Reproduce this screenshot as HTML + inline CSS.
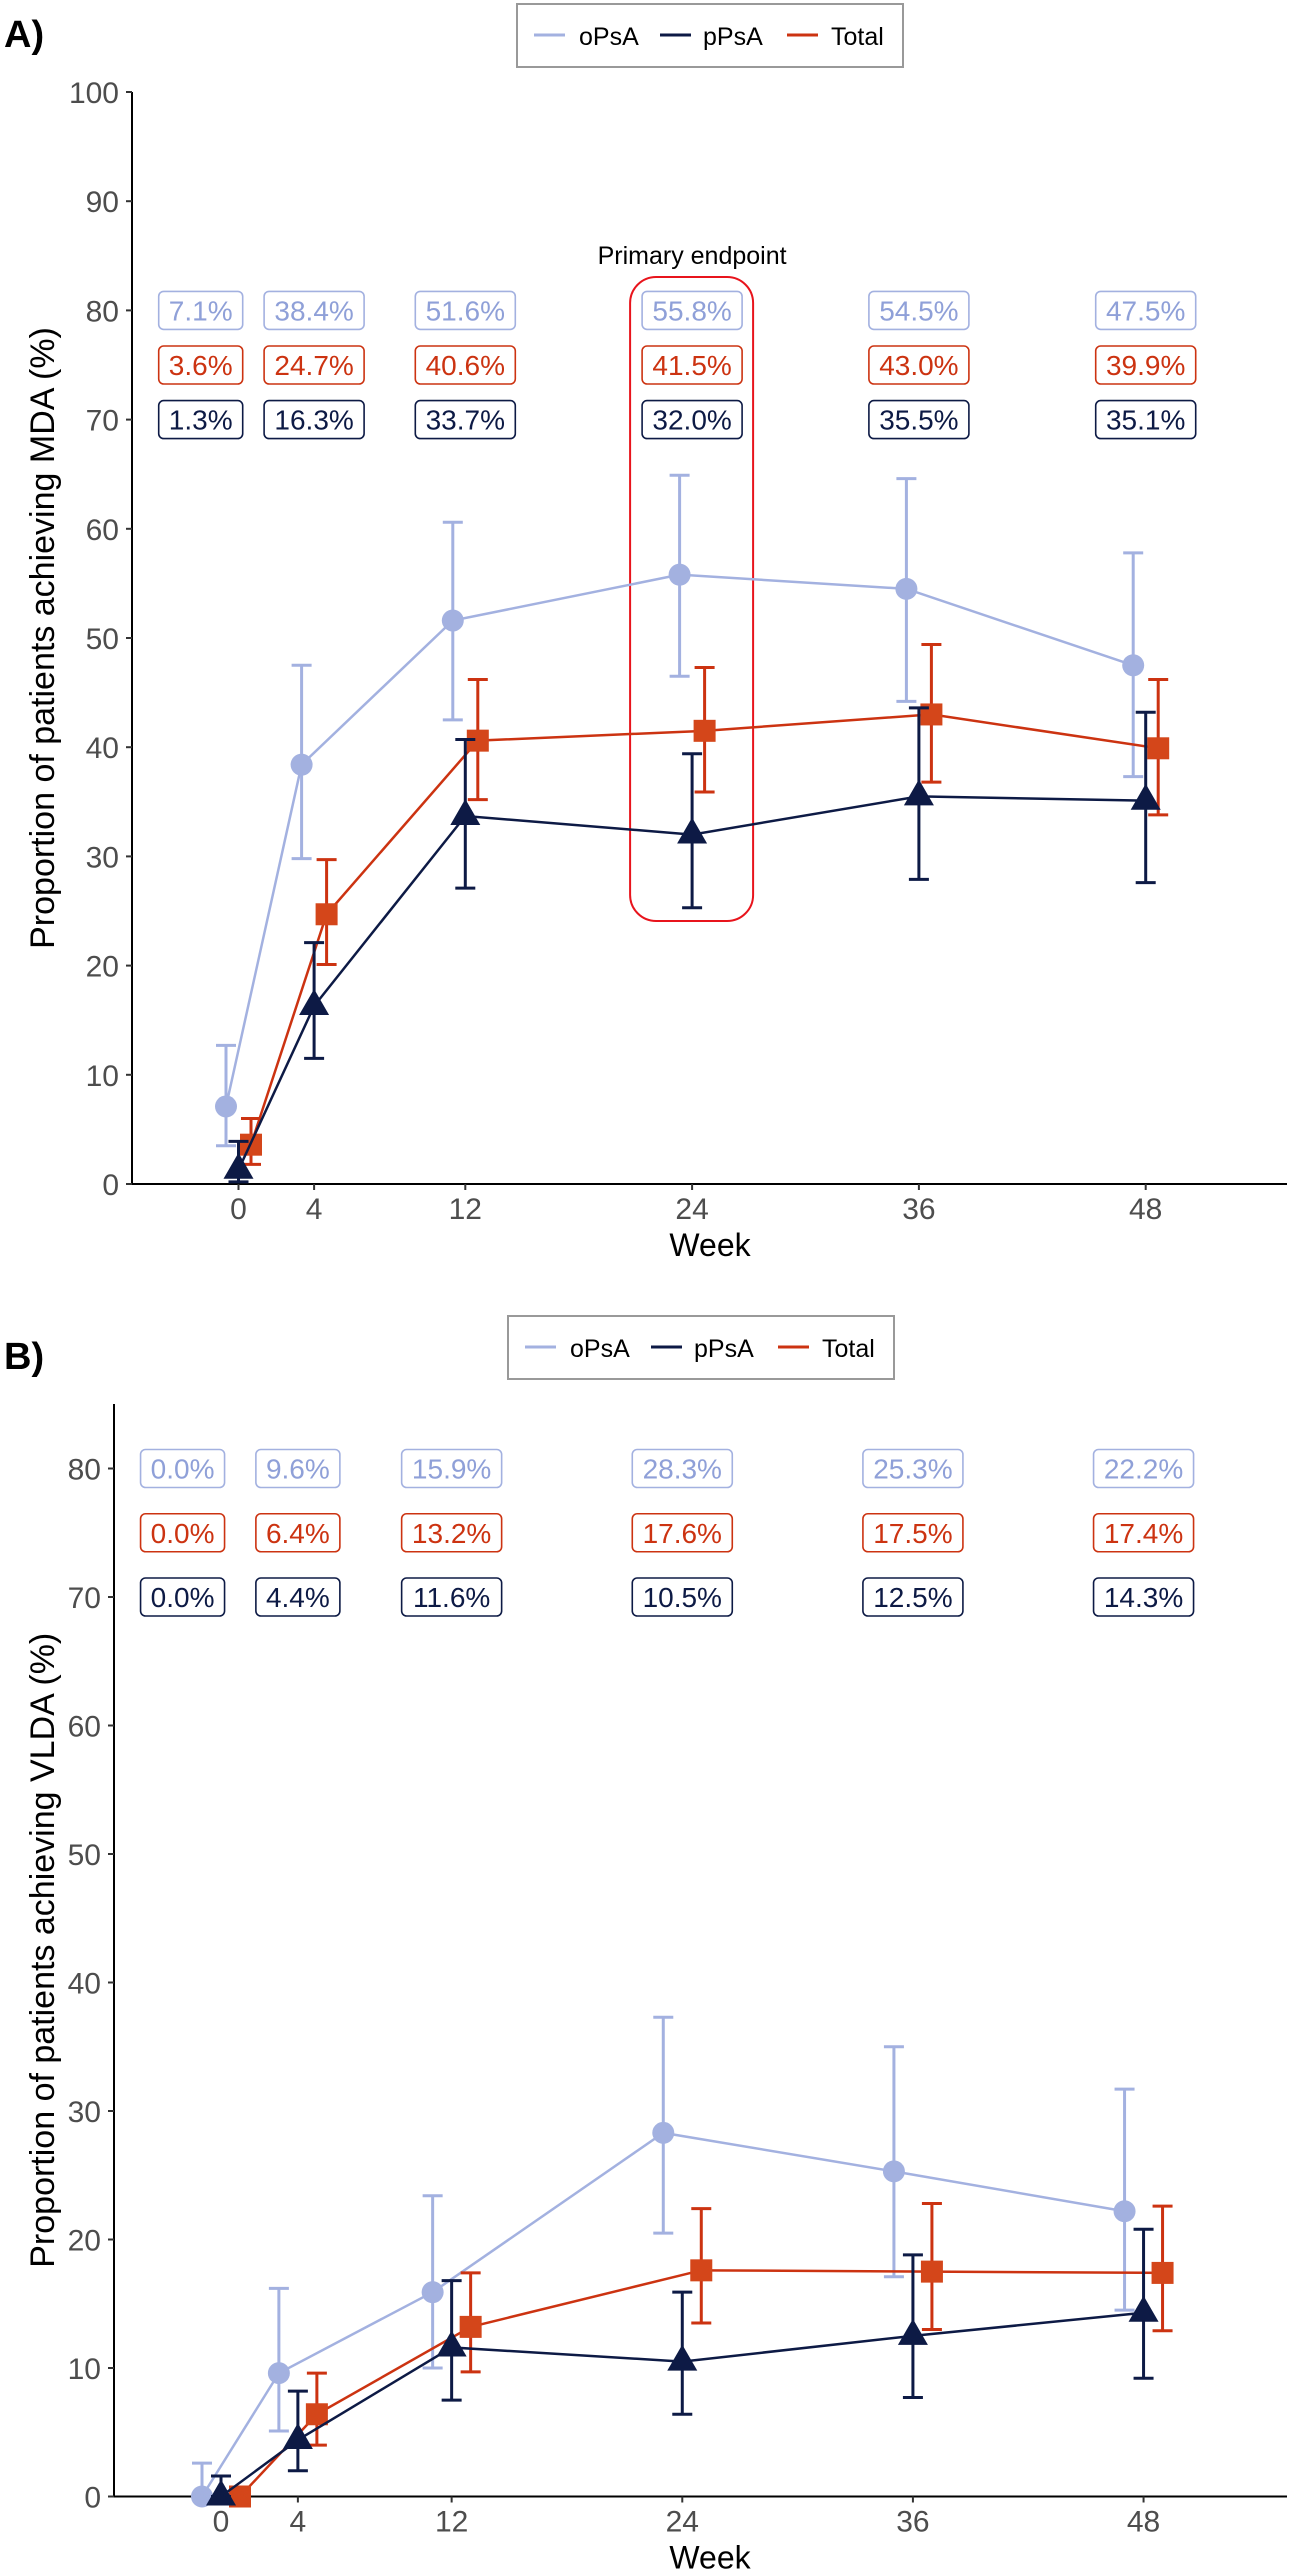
<!DOCTYPE html>
<html><head><meta charset="utf-8"><style>
html,body{margin:0;padding:0;background:#fff;}
svg{display:block;font-family:"Liberation Sans",Arial,sans-serif;}
</style></head><body>
<svg id="chart" width="1291" height="2574" viewBox="0 0 1291 2574" xmlns="http://www.w3.org/2000/svg"></svg>
<script>
// ---- data ----
const weeks = [0, 4, 12, 24, 36, 48];
const seriesNames = ["oPsA", "pPsA", "Total"];
// Panel A (MDA)
const mdaOpsa = [7.1, 38.4, 51.6, 55.8, 54.5, 47.5];
const mdaOpsaLo = [3.5, 29.8, 42.5, 46.5, 44.2, 37.3];
const mdaOpsaHi = [12.7, 47.5, 60.6, 64.9, 64.6, 57.8];
const mdaPpsa = [1.3, 16.3, 33.7, 32.0, 35.5, 35.1];
const mdaPpsaLo = [0.2, 11.5, 27.1, 25.3, 27.9, 27.6];
const mdaPpsaHi = [3.9, 22.1, 40.7, 39.4, 43.6, 43.2];
const mdaTotal = [3.6, 24.7, 40.6, 41.5, 43.0, 39.9];
const mdaTotalLo = [1.8, 20.1, 35.2, 35.9, 36.8, 33.8];
const mdaTotalHi = [6.0, 29.7, 46.2, 47.3, 49.4, 46.2];
const mdaTicks = [0, 10, 20, 30, 40, 50, 60, 70, 80, 90, 100];
// Panel B (VLDA)
const vldaOpsa = [0.0, 9.6, 15.9, 28.3, 25.3, 22.2];
const vldaOpsaLo = [0.0, 5.1, 10.0, 20.5, 17.1, 14.5];
const vldaOpsaHi = [2.6, 16.2, 23.4, 37.3, 35.0, 31.7];
const vldaPpsa = [0.0, 4.4, 11.6, 10.5, 12.5, 14.3];
const vldaPpsaLo = [0.0, 2.0, 7.5, 6.4, 7.7, 9.2];
const vldaPpsaHi = [1.6, 8.2, 16.8, 15.9, 18.8, 20.8];
const vldaTotal = [0.0, 6.4, 13.2, 17.6, 17.5, 17.4];
const vldaTotalLo = [0.0, 4.0, 9.7, 13.5, 13.0, 12.9];
const vldaTotalHi = [0.5, 9.6, 17.4, 22.4, 22.8, 22.6];
const vldaTicks = [0, 10, 20, 30, 40, 50, 60, 70, 80];
const labelRowValues = [80, 75, 70];

const NS = "http://www.w3.org/2000/svg";
const svg = document.getElementById("chart");
const COL = {oPsA: "#a3b1e0", pPsA: "#0d1a45", Total: "#cc3311"};
const MK = {oPsA: "#a3b1e0", pPsA: "#0d1a45", Total: "#d4461a"};
function mk(tag, attrs, parent) {
  const e = document.createElementNS(NS, tag);
  for (const k in attrs) e.setAttribute(k, attrs[k]);
  (parent || svg).appendChild(e);
  return e;
}

function panel(cfg) {
  const g = mk("g", {});
  
  
  const x = w => cfg.x0 + cfg.xs * w;
  const y = v => cfg.y0 - cfg.ys * v;

  const pl = mk("text", {x: 4, y: cfg.letterY, "font-size": 38, "font-weight": "bold", fill: "#000"}, g);
  pl.textContent = cfg.letter;
  
  

  const lg = mk("g", {}, g);
  
  
  mk("rect", {x: cfg.legX, y: cfg.legY, width: 386, height: 63, fill: "#fff", stroke: "#999", "stroke-width": 2}, lg);
  const lOff = [[17, 62], [143, 186], [270, 314]];
  seriesNames.forEach((s, i) => {
    const it = mk("g", {}, lg);
    
    
    mk("line", {x1: cfg.legX + lOff[i][0], x2: cfg.legX + lOff[i][0] + 31, y1: cfg.legY + 31, y2: cfg.legY + 31, stroke: COL[s], "stroke-width": 3}, it);
    const t = mk("text", {x: cfg.legX + lOff[i][1], y: cfg.legY + 41, "font-size": 25, fill: "#000"}, it);
    t.textContent = s;
  });

  const ax = mk("g", {}, g);
  
  
  mk("line", {x1: cfg.axX, x2: cfg.axX, y1: cfg.axTop, y2: cfg.y0, stroke: "#000", "stroke-width": 2}, ax);
  cfg.ticks.forEach(t => {
    mk("line", {x1: cfg.axX - 6, x2: cfg.axX, y1: y(t), y2: y(t), stroke: "#333", "stroke-width": 2}, ax);
    const tx = mk("text", {x: cfg.axX - 13, y: y(t) + 11, "font-size": 30, fill: "#4d4d4d", "text-anchor": "end"}, ax);
    tx.textContent = t;
    
    
  });
  const xa = mk("g", {}, g);
  
  
  mk("line", {x1: cfg.axX, x2: 1287, y1: cfg.y0, y2: cfg.y0, stroke: "#000", "stroke-width": 2}, xa);
  weeks.forEach(w => {
    mk("line", {x1: x(w), x2: x(w), y1: cfg.y0, y2: cfg.y0 + 6, stroke: "#333", "stroke-width": 2}, xa);
    const tx = mk("text", {x: x(w), y: cfg.y0 + 35, "font-size": 30, fill: "#4d4d4d", "text-anchor": "middle"}, xa);
    tx.textContent = w;
    
    
  });
  const xt = mk("text", {x: 710, y: cfg.y0 + 72, "font-size": 32, fill: "#000", "text-anchor": "middle"}, g);
  xt.textContent = "Week";
  
  
  const ym = (cfg.axTop + cfg.y0) / 2;
  const yt = mk("text", {x: 0, y: 0, "font-size": 34, fill: "#000", "text-anchor": "middle", transform: `translate(54,${ym}) rotate(-90)`}, g);
  yt.textContent = cfg.yTitle;
  
  

  if (cfg.primary) {
    const pe = mk("g", {}, g);
    
    
    mk("rect", {x: x(24) - 62, y: 277, width: 123, height: 644, rx: 26, fill: "none", stroke: "#e8141c", "stroke-width": 2}, pe);
    const t = mk("text", {x: x(24), y: 264, "font-size": 25, fill: "#000", "text-anchor": "middle"}, pe);
    t.textContent = "Primary endpoint";
  }

  const lab = mk("g", {}, g);
  
  
  const order = [["oPsA", cfg.data.oPsA.v], ["Total", cfg.data.Total.v], ["pPsA", cfg.data.pPsA.v]];
  order.forEach(([s, vals], r) => {
    vals.forEach((v, i) => {
      const w = weeks[i] === 0 ? -2 : weeks[i];
      const txt = v.toFixed(1) + "%";
      const bw = txt.length >= 5 ? 100 : 84;
      const cx = x(w), cy = y(labelRowValues[r]);
      const bg = mk("g", {}, lab);
      
      
      mk("rect", {x: cx - bw / 2, y: cy - 19, width: bw, height: 38, rx: 5, fill: "#fff", stroke: COL[s], "stroke-width": 1.6}, bg);
      const t = mk("text", {x: cx, y: cy + 10, "font-size": 28, fill: COL[s] === "#a3b1e0" ? "#8fa0d8" : COL[s], "text-anchor": "middle"}, bg);
      t.textContent = txt;
    });
  });

  const dodge = {oPsA: -cfg.dodge, pPsA: 0, Total: cfg.dodge};
  ["oPsA", "Total", "pPsA"].forEach(s => {
    const d = cfg.data[s];
    const sg = mk("g", {}, g);
    
    
    const px = i => x(weeks[i]) + dodge[s];
    const pts = d.v.map((v, i) => px(i) + "," + y(v)).join(" ");
    const ln = mk("polyline", {points: pts, fill: "none", stroke: COL[s], "stroke-width": 2.5}, sg);
    
    d.v.forEach((v, i) => {
      const X = px(i);
      const eb = mk("path", {d: `M${X},${y(d.lo[i])}V${y(d.hi[i])}M${X - 10},${y(d.lo[i])}H${X + 10}M${X - 10},${y(d.hi[i])}H${X + 10}`, stroke: COL[s], "stroke-width": 3, fill: "none"}, sg);
      
      
      let m;
      if (s === "oPsA") m = mk("circle", {cx: X, cy: y(v), r: 11, fill: MK[s]}, sg);
      else if (s === "Total") m = mk("rect", {x: X - 11, y: y(v) - 11, width: 22, height: 22, fill: MK[s]}, sg);
      else m = mk("polygon", {points: `${X},${y(v) - 17} ${X - 15},${y(v) + 9} ${X + 15},${y(v) + 9}`, fill: MK[s]}, sg);
      
      
    });
  });
}

panel({
  name: "panel-a-mda", letter: "A)", letterY: 47, legX: 517, legY: 4,
  x0: 238.5, xs: 18.9, y0: 1184, ys: 10.92, axX: 132, axTop: 92, dodge: 12.5,
  ticks: mdaTicks, yTitle: "Proportion of patients achieving MDA (%)", primary: true,
  data: {oPsA: {v: mdaOpsa, lo: mdaOpsaLo, hi: mdaOpsaHi}, pPsA: {v: mdaPpsa, lo: mdaPpsaLo, hi: mdaPpsaHi}, Total: {v: mdaTotal, lo: mdaTotalLo, hi: mdaTotalHi}}
});
panel({
  name: "panel-b-vlda", letter: "B)", letterY: 1369, legX: 508, legY: 1316,
  x0: 221, xs: 19.22, y0: 2496.5, ys: 12.85, axX: 114, axTop: 1404, dodge: 19,
  ticks: vldaTicks, yTitle: "Proportion of patients achieving VLDA (%)", primary: false,
  data: {oPsA: {v: vldaOpsa, lo: vldaOpsaLo, hi: vldaOpsaHi}, pPsA: {v: vldaPpsa, lo: vldaPpsaLo, hi: vldaPpsaHi}, Total: {v: vldaTotal, lo: vldaTotalLo, hi: vldaTotalHi}}
});
</script>
</body></html>
